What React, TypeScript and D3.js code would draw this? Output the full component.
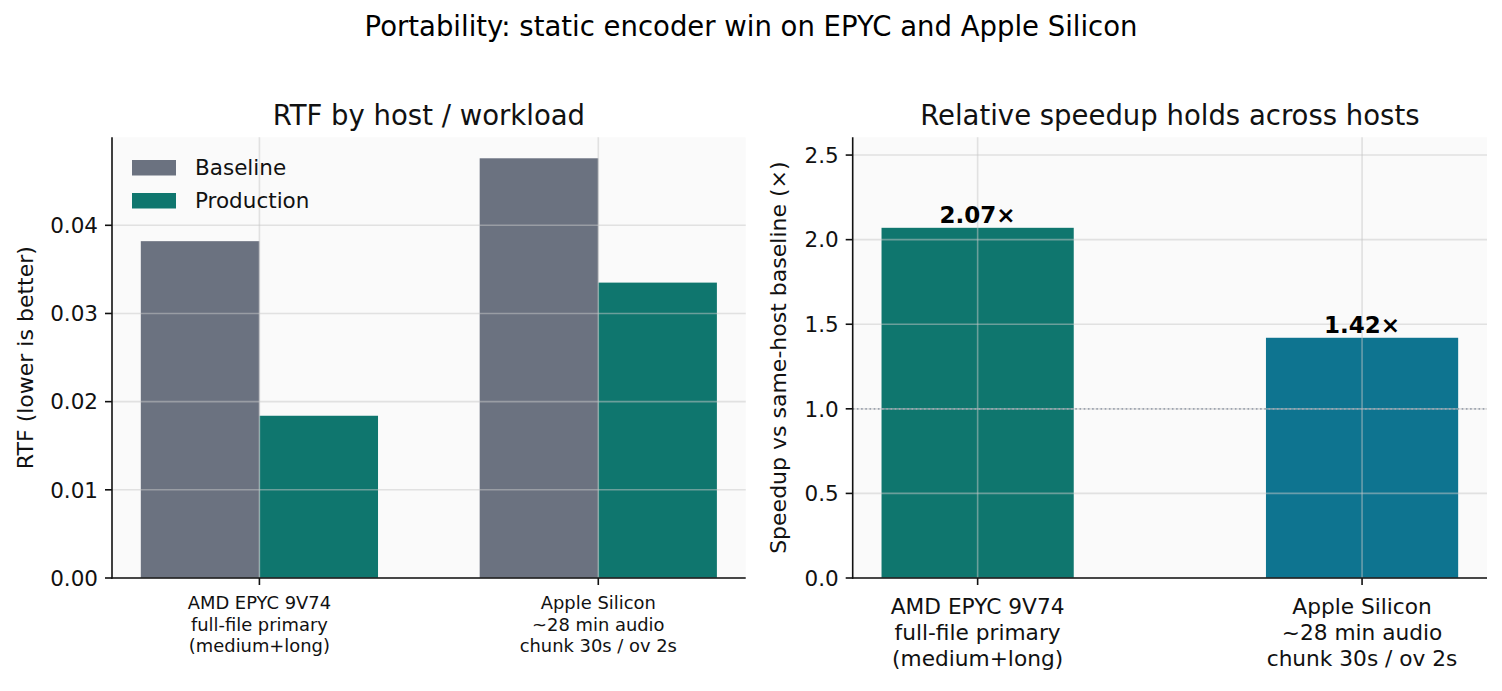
import React from "react";
import * as d3 from "d3";

const hosts = [
  ["AMD EPYC 9V74", "full-file primary", "(medium+long)"],
  ["Apple Silicon", "~28 min audio", "chunk 30s / ov 2s"],
];
const baselineRTF = [0.0382, 0.0476];
const productionRTF = [0.0184, 0.0335];
const speedups = [2.07, 1.42];
const speedupLabels = ["2.07×", "1.42×"];
const leftTicks = [0, 0.01, 0.02, 0.03, 0.04];
const rightTicks = [0, 0.5, 1.0, 1.5, 2.0, 2.5];
const seriesNames = ["Baseline", "Production"];

const COL_BASE = "#6b7280";
const COL_PROD = "#0f766e";
const COL_APPLE = "#0e7490";
const FONT = "DejaVu Sans";

const W = 1502;
const H = 691;
const top = 137.3;
const bottom = 578;

export default function App() {
  const lx = d3.scaleLinear().domain([-0.435, 1.435]).range([112, 745.7]);
  const ly = d3.scaleLinear().domain([0, d3.max(baselineRTF)! * 1.05]).range([bottom, top]);
  const bw = 0.35;
  const rx = d3.scaleLinear().domain([-0.325, 1.325]).range([852.7, 1487]);
  const ry = d3.scaleLinear().domain([0, 2.605]).range([bottom, top]);
  const rbw = 0.5;
  const rColors = [COL_PROD, COL_APPLE];

  const gridStyle = { stroke: "#c8c8c8", strokeOpacity: 0.5, strokeWidth: 1.6 };

  return (
    <svg width={W} height={H} style={{ display: "block", position: "absolute", left: 0, top: 0 }} fontFamily={FONT}>
      <rect x={0} y={0} width={W} height={H} fill="#ffffff" />
      <text x={751} y={36} fontSize={27.5} textAnchor="middle" fill="#000">
        Portability: static encoder win on EPYC and Apple Silicon
      </text>

      {/* LEFT PANEL */}
      <rect x={lx(-0.435)} y={top} width={lx(1.435) - lx(-0.435)} height={bottom - top} fill="#fafafa" />
      {[0, 1].map((i) => (
        <g key={"lb" + i}>
          <rect x={lx(i - bw)} y={ly(baselineRTF[i])} width={lx(bw) - lx(0)} height={bottom - ly(baselineRTF[i])} fill={COL_BASE} />
          <rect x={lx(i)} y={ly(productionRTF[i])} width={lx(bw) - lx(0)} height={bottom - ly(productionRTF[i])} fill={COL_PROD} />
        </g>
      ))}
      {leftTicks.map((t) => (
        <line key={"lgy" + t} x1={lx(-0.435)} x2={lx(1.435)} y1={ly(t)} y2={ly(t)} {...gridStyle} />
      ))}
      {[0, 1].map((i) => (
        <line key={"lgx" + i} x1={lx(i)} x2={lx(i)} y1={top} y2={bottom} {...gridStyle} />
      ))}
      <line x1={lx(-0.435)} x2={lx(-0.435)} y1={top} y2={bottom + 0.8} stroke="#111" strokeWidth={1.6} />
      <line x1={lx(-0.435) - 0.8} x2={lx(1.435)} y1={bottom} y2={bottom} stroke="#111" strokeWidth={1.6} />
      {leftTicks.map((t) => (
        <g key={"lty" + t}>
          <line x1={lx(-0.435) - 7} x2={lx(-0.435)} y1={ly(t)} y2={ly(t)} stroke="#111" strokeWidth={1.6} />
          <text x={lx(-0.435) - 14} y={ly(t)} dy="0.36em" fontSize={21.5} textAnchor="end" fill="#111">
            {d3.format(".2f")(t)}
          </text>
        </g>
      ))}
      {[0, 1].map((i) => (
        <g key={"ltx" + i}>
          <line x1={lx(i)} x2={lx(i)} y1={bottom} y2={bottom + 7} stroke="#111" strokeWidth={1.6} />
          {hosts[i].map((s, j) => (
            <text key={j} x={lx(i)} y={bottom + 31 + j * 21.5} fontSize={17.9} textAnchor="middle" fill="#111">
              {s}
            </text>
          ))}
        </g>
      ))}
      <text transform={`translate(33,${(top + bottom) / 2}) rotate(-90)`} fontSize={22} textAnchor="middle" fill="#111">
        RTF (lower is better)
      </text>
      <text x={(lx(-0.435) + lx(1.435)) / 2} y={125} fontSize={27.5} textAnchor="middle" fill="#111">
        RTF by host / workload
      </text>
      {seriesNames.map((n, i) => (
        <g key={"lg" + n}>
          <rect x={132} y={160 + i * 33} width={44} height={15.5} fill={i === 0 ? COL_BASE : COL_PROD} />
          <text x={195} y={167.7 + i * 33} dy="0.36em" fontSize={21.5} fill="#111">
            {n}
          </text>
        </g>
      ))}

      {/* RIGHT PANEL */}
      <rect x={rx(-0.325)} y={top} width={rx(1.325) - rx(-0.325)} height={bottom - top} fill="#fafafa" />
      {[0, 1].map((i) => (
        <rect key={"rb" + i} x={rx(i - rbw / 2)} y={ry(speedups[i])} width={rx(rbw) - rx(0)} height={bottom - ry(speedups[i])} fill={rColors[i]} />
      ))}
      {rightTicks.map((t) => (
        <line key={"rgy" + t} x1={rx(-0.325)} x2={rx(1.325)} y1={ry(t)} y2={ry(t)} {...gridStyle} />
      ))}
      {[0, 1].map((i) => (
        <line key={"rgx" + i} x1={rx(i)} x2={rx(i)} y1={top} y2={bottom} {...gridStyle} />
      ))}
      <line x1={rx(-0.325)} x2={rx(1.325)} y1={ry(1)} y2={ry(1)} stroke="#9ca3af" strokeWidth={1.6} strokeDasharray="1.6 2.6" />
      <line x1={rx(-0.325)} x2={rx(-0.325)} y1={top} y2={bottom + 0.8} stroke="#111" strokeWidth={1.6} />
      <line x1={rx(-0.325) - 0.8} x2={rx(1.325)} y1={bottom} y2={bottom} stroke="#111" strokeWidth={1.6} />
      {rightTicks.map((t) => (
        <g key={"rty" + t}>
          <line x1={rx(-0.325) - 7} x2={rx(-0.325)} y1={ry(t)} y2={ry(t)} stroke="#111" strokeWidth={1.6} />
          <text x={rx(-0.325) - 14} y={ry(t)} dy="0.36em" fontSize={21.5} textAnchor="end" fill="#111">
            {d3.format(".1f")(t)}
          </text>
        </g>
      ))}
      {[0, 1].map((i) => (
        <g key={"rtx" + i}>
          <line x1={rx(i)} x2={rx(i)} y1={bottom} y2={bottom + 7} stroke="#111" strokeWidth={1.6} />
          {hosts[i].map((s, j) => (
            <text key={j} x={rx(i)} y={bottom + 36 + j * 26} fontSize={21.7} textAnchor="middle" fill="#111">
              {s}
            </text>
          ))}
        </g>
      ))}
      {[0, 1].map((i) => (
        <text key={"rl" + i} x={rx(i)} y={ry(speedups[i]) - 5} fontSize={23} fontWeight="bold" textAnchor="middle" fill="#000">
          {speedupLabels[i]}
        </text>
      ))}
      <text transform={`translate(786,${(top + bottom) / 2}) rotate(-90)`} fontSize={22} textAnchor="middle" fill="#111">
        Speedup vs same-host baseline (×)
      </text>
      <text x={(rx(-0.325) + rx(1.325)) / 2} y={125} fontSize={27.5} textAnchor="middle" fill="#111">
        Relative speedup holds across hosts
      </text>
    </svg>
  );
}
